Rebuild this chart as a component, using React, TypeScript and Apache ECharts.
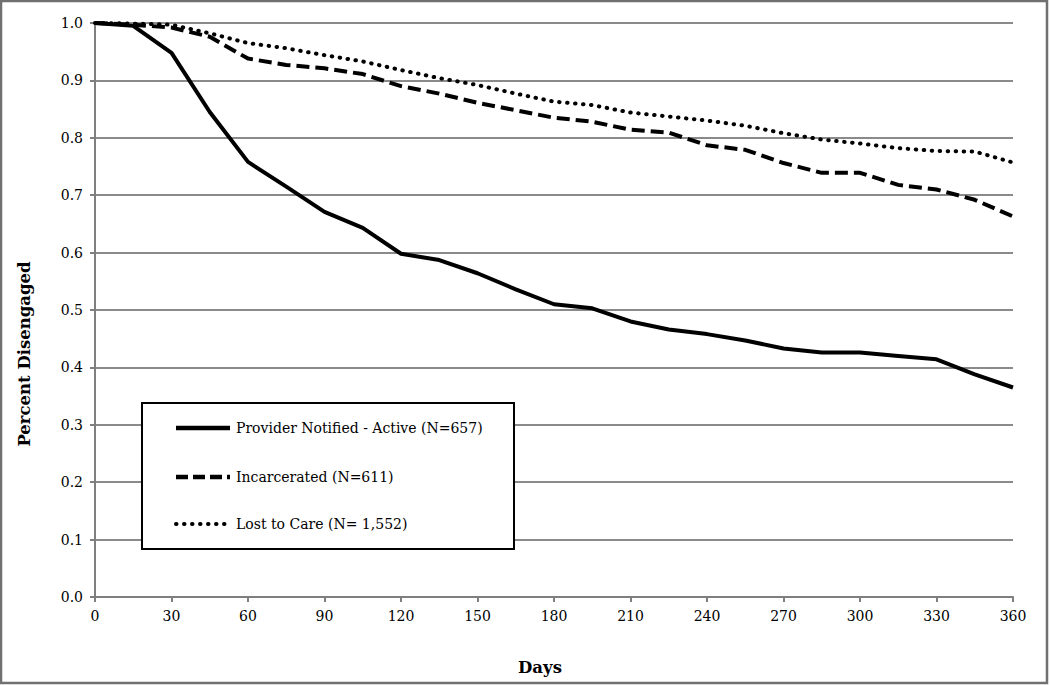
import React, { useEffect, useRef } from "react";
import * as echarts from "echarts";

const days = [0, 15, 30, 45, 60, 75, 90, 105, 120, 135, 150, 165, 180, 195, 210, 225, 240, 255, 270, 285, 300, 315, 330, 345, 360];
const providerNotified = [1.0, 0.995, 0.948, 0.845, 0.758, 0.715, 0.671, 0.643, 0.598, 0.587, 0.564, 0.536, 0.510, 0.503, 0.480, 0.466, 0.458, 0.447, 0.433, 0.426, 0.426, 0.420, 0.414, 0.388, 0.365];
const incarcerated = [1.0, 0.997, 0.992, 0.976, 0.938, 0.927, 0.921, 0.911, 0.890, 0.877, 0.861, 0.848, 0.835, 0.828, 0.814, 0.809, 0.787, 0.779, 0.756, 0.739, 0.739, 0.718, 0.710, 0.692, 0.663];
const lostToCare = [1.0, 0.999, 0.997, 0.982, 0.965, 0.956, 0.944, 0.933, 0.918, 0.904, 0.892, 0.877, 0.863, 0.857, 0.844, 0.837, 0.830, 0.821, 0.808, 0.797, 0.790, 0.782, 0.777, 0.776, 0.757];
const seriesNames = ["Provider Notified - Active (N=657)", "Incarcerated (N=611)", "Lost to Care (N= 1,552)"];
const xTitle = "Days";
const yTitle = "Percent Disengaged";

const FONT = "DejaVu Serif";
const DASH = [13, 6];
const DOT = [0.5, 7.5];

export default function App() {
  const ref = useRef<HTMLDivElement>(null);
  useEffect(() => {
    document.body.style.margin = "0";
    const chart = echarts.init(ref.current!, null, { renderer: "svg" });
    const pair = (vals: number[]) => days.map((d, i) => [d, vals[i]]);
    const legendRows = [
      { y: 428, dash: null as number[] | null, width: 4.5, cap: "butt" },
      { y: 477, dash: [12, 5], width: 4.5, cap: "butt" },
      { y: 524, dash: [0.5, 7.5], width: 4, cap: "round" },
    ];
    const legendGraphics: any[] = [
      {
        type: "rect",
        shape: { x: 142, y: 403, width: 372, height: 146 },
        style: { fill: "#ffffff", stroke: "#000000", lineWidth: 2 },
        silent: true,
        z: 100,
      },
    ];
    legendRows.forEach((r, i) => {
      legendGraphics.push({
        type: "line",
        shape: { x1: 176, y1: r.y, x2: 230, y2: r.y },
        style: { stroke: "#000", lineWidth: r.width, lineDash: r.dash || undefined, lineCap: r.cap },
        silent: true,
        z: 101,
      });
      legendGraphics.push({
        type: "text",
        x: 236,
        y: r.y,
        style: { text: seriesNames[i], font: `14px "${FONT}"`, fill: "#000", verticalAlign: "middle" },
        silent: true,
        z: 101,
      });
    });
    chart.setOption({
      animation: false,
      backgroundColor: "#ffffff",
      textStyle: { fontFamily: FONT },
      grid: { left: 95, right: 37, top: 23, bottom: 88, containLabel: false },
      graphic: [
        {
          type: "rect",
          shape: { x: 1, y: 1, width: 1046, height: 682 },
          style: { fill: "none", stroke: "#707070", lineWidth: 2.5 },
          silent: true,
        },
        {
          type: "text",
          x: 540,
          y: 667,
          style: { text: xTitle, font: `bold 16.5px "${FONT}"`, fill: "#000", align: "center", verticalAlign: "middle" },
          silent: true,
        },
        {
          type: "text",
          x: 24,
          y: 354,
          rotation: Math.PI / 2,
          style: { text: yTitle, font: `bold 16.5px "${FONT}"`, fill: "#000", align: "center", verticalAlign: "middle" },
          silent: true,
        },
        ...legendGraphics,
      ],
      xAxis: {
        type: "value",
        min: 0,
        max: 360,
        interval: 30,
        axisLine: { show: true, lineStyle: { color: "#7f7f7f", width: 2 } },
        axisTick: { show: true, length: 5, lineStyle: { color: "#7f7f7f", width: 2 } },
        axisLabel: { fontFamily: FONT, fontSize: 14, color: "#000", margin: 12 },
        splitLine: { show: false },
      },
      yAxis: {
        type: "value",
        min: 0,
        max: 1,
        interval: 0.1,
        axisLine: { show: true, lineStyle: { color: "#7f7f7f", width: 2 } },
        axisTick: { show: true, length: 5, lineStyle: { color: "#7f7f7f", width: 2 } },
        axisLabel: { fontFamily: FONT, fontSize: 14, color: "#000", margin: 12, formatter: (v: number) => v.toFixed(1) },
        splitLine: { show: true, lineStyle: { color: "#8a8a8a", width: 2 } },
      },
      series: [
        {
          name: seriesNames[0],
          type: "line",
          data: pair(providerNotified),
          showSymbol: false,
          symbol: "none",
          lineStyle: { color: "#000", width: 4, type: "solid", join: "round" },
          itemStyle: { color: "#000" },
        },
        {
          name: seriesNames[1],
          type: "line",
          data: pair(incarcerated),
          showSymbol: false,
          symbol: "none",
          lineStyle: { color: "#000", width: 4, type: DASH },
          itemStyle: { color: "#000" },
        },
        {
          name: seriesNames[2],
          type: "line",
          data: pair(lostToCare),
          showSymbol: false,
          symbol: "none",
          lineStyle: { color: "#000", width: 4, type: DOT, cap: "round" },
          itemStyle: { color: "#000" },
        },
      ],
    });
    return () => chart.dispose();
  }, []);
  return <div ref={ref} style={{ width: 1050, height: 685 }} />;
}
